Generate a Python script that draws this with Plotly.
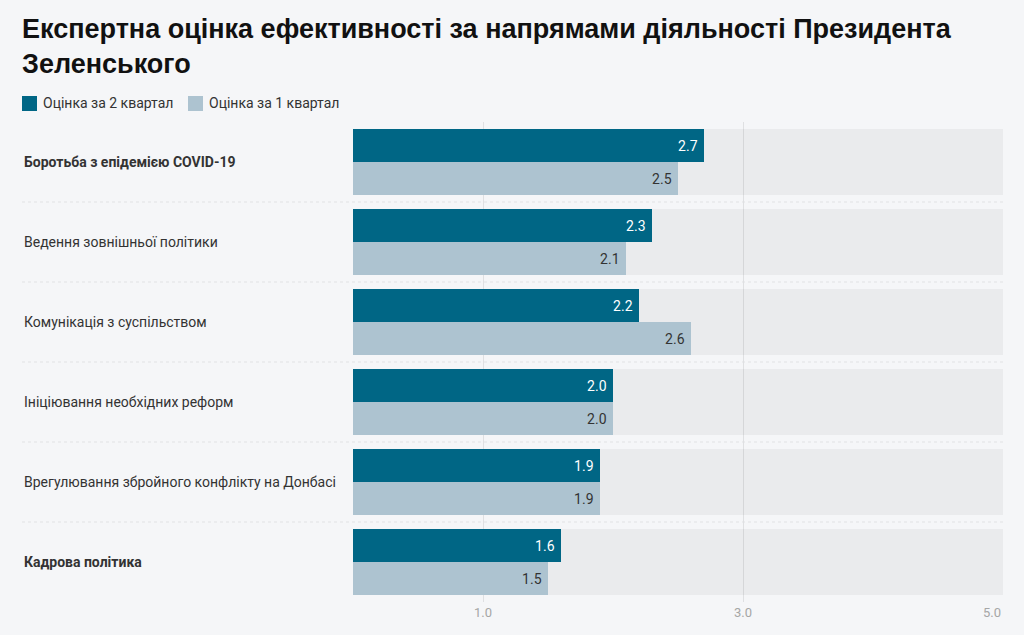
import plotly.graph_objects as go

categories = [
    "Боротьба з епідемією COVID-19",
    "Ведення зовнішньої політики",
    "Комунікація з суспільством",
    "Ініціювання необхідних реформ",
    "Врегулювання збройного конфлікту на Донбасі",
    "Кадрова політика",
]
bold_rows = [True, False, False, False, False, True]
q2_scores = [2.7, 2.3, 2.2, 2.0, 1.9, 1.6]
q1_scores = [2.5, 2.1, 2.6, 2.0, 1.9, 1.5]
scale_max = 5.0
tick_vals = [1.0, 3.0, 5.0]
tick_labels = ["1.0", "3.0", "5.0"]
series_names = ["Оцінка за 2 квартал", "Оцінка за 1 квартал"]
title_text = "Експертна оцінка ефективності за напрямами діяльності Президента<br>Зеленського"

BG = "#f5f6f8"
DARK = "#006685"
LIGHT = "#adc3d0"
W, H = 1024, 635
ML, MR, MT, MB = 353, 21, 122, 33
PW = W - ML - MR
PH = H - MT - MB
half = 0.4125


def px_x(p):
    return (p - ML) / PW


def px_y(p):
    return 1 - (p - MT) / PH


fig = go.Figure()
# background track
fig.add_trace(go.Bar(
    y=categories, x=[scale_max] * len(categories), orientation="h",
    width=2 * half, offset=-half, marker=dict(color="rgba(0,0,0,0.042)", line=dict(width=0)),
    showlegend=False, hoverinfo="skip",
))
fig.add_trace(go.Bar(
    y=categories, x=q2_scores, orientation="h", name=series_names[0],
    width=half, offset=-half, marker=dict(color=DARK, line=dict(width=0)),
    texttemplate="%{x:.1f}\u00a0", textposition="inside", insidetextanchor="end",
    textangle=0, constraintext="none", showlegend=False,
    textfont=dict(family="Roboto", size=14, color="white"),
))
fig.add_trace(go.Bar(
    y=categories, x=q1_scores, orientation="h", name=series_names[1],
    width=half, offset=0, marker=dict(color=LIGHT, line=dict(width=0)),
    texttemplate="%{x:.1f}\u00a0", textposition="inside", insidetextanchor="end",
    textangle=0, constraintext="none", showlegend=False,
    textfont=dict(family="Roboto", size=14, color="#333333"),
))

shapes = []
for i in range(len(categories) - 1):
    shapes.append(dict(
        type="line", xref="paper", yref="y", x0=px_x(22), x1=1.0,
        y0=i + 0.5, y1=i + 0.5, line=dict(color="#e1e2e4", width=1, dash="dot"),
        layer="below",
    ))

annotations = []
# title
annotations.append(dict(
    xref="paper", yref="paper", x=px_x(20), y=px_y(12), xanchor="left", yanchor="top",
    text=f"<b>{title_text}</b>", showarrow=False, align="left",
    font=dict(family="Liberation Sans", size=27, color="#111111"),
))
# legend (custom swatches)
legend_x = [22, 188]
for name, col, lx in zip(series_names, [DARK, LIGHT], legend_x):
    shapes.append(dict(
        type="rect", xref="paper", yref="paper",
        x0=px_x(lx), x1=px_x(lx + 15), y0=px_y(111), y1=px_y(96),
        fillcolor=col, line=dict(width=0),
    ))
    annotations.append(dict(
        xref="paper", yref="paper", x=px_x(lx + 19), y=px_y(103.5),
        xanchor="left", yanchor="middle", text=name, showarrow=False,
        font=dict(family="Roboto", size=14, color="#333333"),
    ))
for cat, b in zip(categories, bold_rows):
    annotations.append(dict(
        xref="paper", yref="y", x=px_x(22), y=cat, xanchor="left", yanchor="middle",
        text=f"<b>{cat}</b>" if b else cat, showarrow=False,
        font=dict(family="Roboto", size=14, color="#333333"),
    ))
for v, t in zip(tick_vals, tick_labels):
    annotations.append(dict(
        xref="x", yref="paper", x=v, y=0, yanchor="top", yshift=-1,
        xanchor="right" if v == scale_max else "center",
        text=t, showarrow=False,
        font=dict(family="Roboto", size=13, color="#a6a6a6"),
    ))

fig.update_layout(
    width=W, height=H,
    margin=dict(l=ML, r=MR, t=MT, b=MB, autoexpand=False),
    paper_bgcolor=BG, plot_bgcolor=BG,
    barmode="overlay",
    showlegend=False,
    xaxis=dict(
        range=[0, scale_max], tickvals=tick_vals, showticklabels=False,
        showgrid=True, gridcolor="#dfe0e2", gridwidth=1, zeroline=False,
        showline=False, fixedrange=True,
    ),
    yaxis=dict(
        type="category", categoryorder="array", categoryarray=categories,
        range=[len(categories) - 0.5, -0.5], showticklabels=False,
        showgrid=False, zeroline=False, fixedrange=True,
    ),
    shapes=shapes, annotations=annotations,
)

fig.write_html(
    "out.html",
    config={"displayModeBar": False},
    post_script="document.body.style.margin='0';document.body.style.background='" + BG + "';",
)
